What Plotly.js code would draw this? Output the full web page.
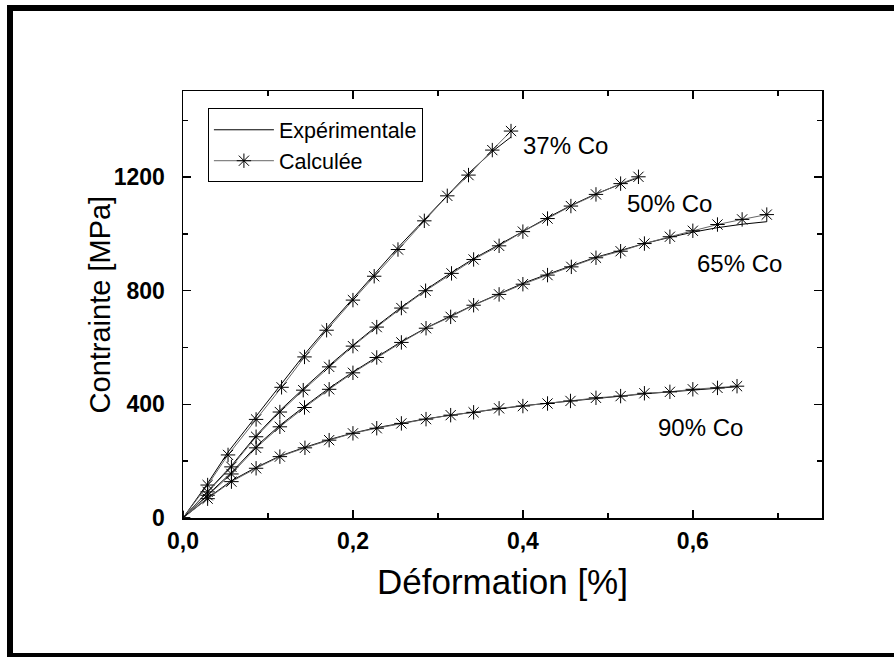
<!DOCTYPE html>
<html>
<head>
<meta charset="utf-8">
<script src="https://cdn.plot.ly/plotly-3.0.1.min.js"></script>
<style>
  html, body { margin: 0; padding: 0; background: #fff; overflow: hidden; }
  #wrap { position: relative; width: 894px; height: 657px; overflow: hidden; }
  #chart { width: 894px; height: 657px; }
  #frame { position: absolute; left: 7px; top: 5px; width: 1000px; height: 642px;
           border-top: 6px solid #000; border-left: 6px solid #000; border-bottom: 4px solid #000;
           pointer-events: none; }
</style>
</head>
<body>
<div id="wrap"><div id="chart"></div><div id="frame"></div></div>
<script>
// ---- data ----
const strain37 = [0, 0.029, 0.053, 0.086, 0.116, 0.143, 0.169, 0.2, 0.225, 0.253, 0.284, 0.311, 0.336, 0.364, 0.386];
const calc37   = [0, 116, 222, 347, 460, 567, 661, 767, 851, 945, 1046, 1134, 1207, 1295, 1362];
const exp37    = [0, 122, 232, 357, 470, 576, 668, 772, 858, 952, 1050, 1136, 1213, 1290, 1341];

const strain50 = [0, 0.029, 0.057, 0.086, 0.114, 0.1415, 0.172, 0.2, 0.228, 0.257, 0.2855, 0.316, 0.342, 0.372, 0.4, 0.429, 0.4565, 0.486, 0.515, 0.536];
const calc50   = [0, 92, 180, 286, 373, 450, 532, 605, 672, 739, 800, 861, 910, 958, 1008, 1054, 1098, 1139, 1177, 1201];
const exp50    = [0, 95, 184, 290, 378, 455, 537, 608, 676, 742, 803, 864, 913, 962, 1010, 1057, 1100, 1141, 1175, 1198];

const strain65 = [0, 0.029, 0.057, 0.086, 0.114, 0.143, 0.172, 0.2, 0.228, 0.257, 0.286, 0.315, 0.342, 0.372, 0.4, 0.429, 0.457, 0.486, 0.515, 0.543, 0.573, 0.6, 0.629, 0.658, 0.687];
const calc65   = [0, 80, 155, 247, 321, 389, 453, 511, 565, 618, 668, 708, 749, 787, 823, 855, 884, 916, 939, 966, 990, 1011, 1033, 1051, 1068];
const exp65    = [0, 83, 160, 252, 326, 393, 457, 514, 568, 621, 669, 710, 750, 789, 826, 858, 888, 918, 942, 966, 988, 1006, 1022, 1034, 1043];

const strain90 = [0, 0.029, 0.057, 0.086, 0.114, 0.1435, 0.172, 0.2, 0.228, 0.257, 0.286, 0.315, 0.342, 0.372, 0.4, 0.429, 0.456, 0.486, 0.515, 0.543, 0.573, 0.6, 0.629, 0.652];
const calc90   = [0, 68, 128, 175, 216, 247, 274, 298, 316, 333, 348, 362, 372, 386, 394, 403, 412, 423, 429, 439, 444, 453, 458, 464];
const exp90    = [0, 70, 131, 178, 218, 249, 276, 299, 318, 334, 349, 362, 373, 385, 395, 404, 412, 421, 429, 437, 444, 451, 457, 462];

const curveLabels = ["37% Co", "50% Co", "65% Co", "90% Co"];
const labelX = [0.398, 0.52, 0.602, 0.557];
const labelY = [1312, 1108, 897, 320];
const legendNames = ["Expérimentale", "Calculée"];
const xTitle = "Déformation [%]";
const yTitle = "Contrainte [MPa]";

const series = [
  [strain37, exp37, calc37],
  [strain50, exp50, calc50],
  [strain65, exp65, calc65],
  [strain90, exp90, calc90]
];

const FONT = "Liberation Sans, Arial, sans-serif";
const traces = [];
series.forEach((s, i) => {
  traces.push({
    x: s[0], y: s[1], type: "scatter", mode: "lines",
    name: legendNames[0], legendgroup: "exp", showlegend: i === 0,
    line: { color: "#000", width: 1 }
  });
});
series.forEach((s, i) => {
  traces.push({
    x: s[0], y: s[2], type: "scatter", mode: "lines+markers",
    name: legendNames[1], legendgroup: "calc", showlegend: i === 0,
    line: { color: "#666", width: 1 },
    marker: { symbol: "asterisk-open", size: 12, color: "#000", line: { color: "#000", width: 1 } }
  });
});

const annotations = curveLabels.map((t, i) => ({
  x: labelX[i], y: labelY[i], xref: "x", yref: "y", text: t, showarrow: false,
  xanchor: "left", yanchor: "middle",
  font: { family: FONT, size: 24, color: "#000" }
}));
// y-axis title placed as a rotated annotation to match the reference position
annotations.push({
  x: -0.13, y: 0.5, xref: "paper", yref: "paper", text: yTitle, showarrow: false,
  textangle: -90, xanchor: "center", yanchor: "middle",
  font: { family: FONT, size: 29, color: "#000" }
});

const axisCommon = {
  showgrid: false, zeroline: false, showline: true, linecolor: "#000", linewidth: 1.5,
  mirror: "ticks", ticks: "inside", ticklen: 8, tickwidth: 1.5, tickcolor: "#000",
  tickfont: { family: FONT, size: 23, weight: "bold", color: "#000" }
};

const layout = {
  width: 894, height: 657,
  margin: { l: 183, r: 72, t: 91, b: 139 },
  paper_bgcolor: "#fff", plot_bgcolor: "#fff",
  separators: ", ",
  showlegend: true,
  legend: {
    x: 0.039, y: 0.9595, xanchor: "left", yanchor: "top",
    bgcolor: "#fff", bordercolor: "#000", borderwidth: 1,
    font: { family: FONT, size: 21.5, color: "#000" },
    itemwidth: 60, tracegroupgap: 0, traceorder: "normal"
  },
  xaxis: Object.assign({}, axisCommon, {
    range: [0, 0.752], tick0: 0, dtick: 0.2, tickformat: ".1f",
    ticklabelstandoff: 2,
    minor: { dtick: 0.1, ticks: "inside", ticklen: 5, tickwidth: 1.5, tickcolor: "#000" },
    title: { text: xTitle, font: { family: FONT, size: 35, color: "#000" }, standoff: 16 }
  }),
  yaxis: Object.assign({}, axisCommon, {
    range: [0, 1503], tick0: 0, dtick: 400, tickformat: "d",
    ticklabelstandoff: 12,
    minor: { dtick: 200, ticks: "inside", ticklen: 5, tickwidth: 1.5, tickcolor: "#000" }
  }),
  annotations: annotations
};

Plotly.newPlot("chart", traces, layout, { displayModeBar: false, staticPlot: true });
</script>
</body>
</html>
